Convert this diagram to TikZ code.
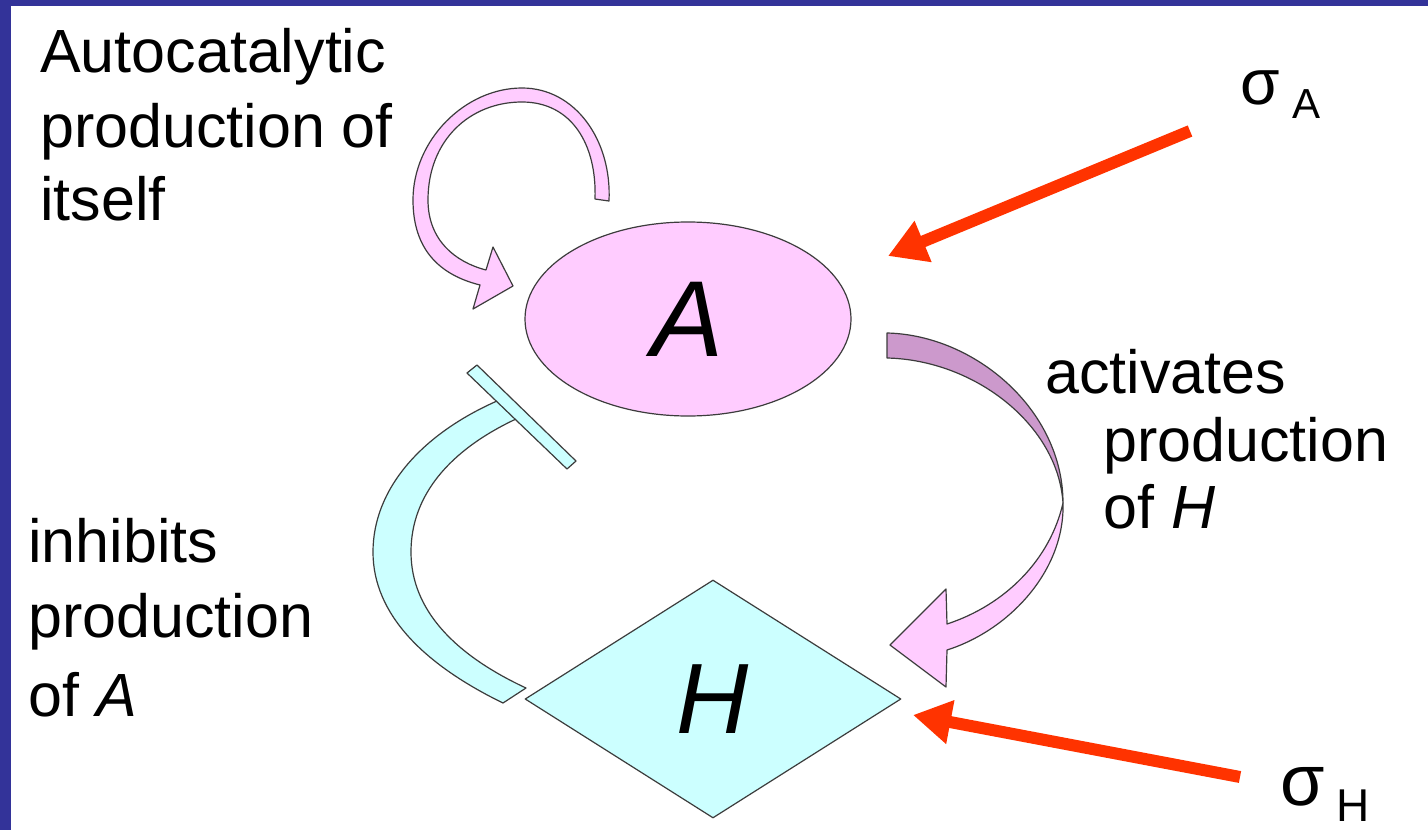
\documentclass[tikz,border=0pt]{standalone}
\usepackage{fontspec}
\setmainfont{Liberation Sans}
\usetikzlibrary{arrows.meta,shapes.geometric}
\definecolor{slideblue}{RGB}{51,51,153}
\definecolor{pinkfill}{RGB}{255,204,255}
\definecolor{mauvefill}{RGB}{204,153,204}
\definecolor{cyanfill}{RGB}{204,255,255}
\definecolor{signalred}{RGB}{255,51,0}
\definecolor{edgegray}{RGB}{60,60,60}
\begin{document}
\begin{tikzpicture}[x=1pt,y=-1pt,
  outl/.style={draw=edgegray,line width=1.2pt,line join=round},
  lbl/.style={anchor=base west,inner sep=0pt,font=\fontsize{61}{61}\selectfont},
  signalarrow/.style={draw=signalred,line width=12pt,-{Triangle[length=38pt,width=42pt]}},
  ]
% page and slide frame
\useasboundingbox (0,0) rectangle (1428,830);
\fill[white] (0,0) rectangle (1428,830);
\fill[slideblue] (0,0) rectangle (1428,6);
\fill[slideblue] (0,0) rectangle (11,830);

% species A and H
\node[ellipse,outl,fill=pinkfill,minimum width=326pt,minimum height=194pt,inner sep=0pt,
      font=\fontsize{108}{108}\selectfont\itshape] (A) at (688,319) {A};
\node[diamond,outl,fill=cyanfill,minimum width=376pt,minimum height=238pt,inner sep=0pt,
      font=\fontsize{100}{100}\selectfont\itshape] (H) at (713,699) {H};

% autocatalytic loop arrow
\draw[outl,fill=pinkfill] (609,201) .. controls (612,140) and (575,88) .. (522,88)
  .. controls (465,88) and (413,140) .. (413,200)
  .. controls (413,250) and (440,275) .. (480,285)
  -- (473,309) -- (513,286) -- (493,247) -- (486,270)
  .. controls (455,262) and (428,240) .. (428,200)
  .. controls (428,140) and (470,102) .. (522,102)
  .. controls (572,102) and (597,145) .. (595,199) -- cycle;

% activation arrow A -> H: back face, then front face with head
\draw[outl,fill=mauvefill] (887,333) .. controls (975,335) and (1063,410) .. (1063,503)
  .. controls (1058,425) and (975,360) .. (887,358) -- cycle;
\draw[outl,fill=pinkfill] (1063,503) .. controls (1065,570) and (1010,630) .. (947,650)
  -- (946,687) -- (890,645) -- (946,589) -- (947,624)
  .. controls (1005,605) and (1050,560) .. (1063,503) -- cycle;

% inhibition H -| A
\draw[outl,fill=cyanfill] (497,401) .. controls (420,435) and (373,490) .. (373,552)
  .. controls (373,615) and (425,665) .. (503,703) -- (526,688)
  .. controls (455,655) and (411,610) .. (411,552)
  .. controls (411,495) and (450,450) .. (516,419) -- cycle;
\draw[outl,fill=cyanfill] (467,373) -- (477,365) -- (576,461) -- (567,469) -- cycle;

% noise inputs
\node[anchor=base west,inner sep=0pt,font=\fontsize{64}{64}\selectfont] (sigA) at (1240,104) {σ};
\node[anchor=base west,inner sep=0pt,font=\fontsize{42}{42}\selectfont] (sigAsub) at (1292,118) {A};
\node[anchor=base west,inner sep=0pt,font=\fontsize{72}{72}\selectfont] (sigH) at (1280,805) {σ};
\node[anchor=base west,inner sep=0pt,font=\fontsize{46}{46}\selectfont] (sigHsub) at (1336,821) {H};
\coordinate (sa-tail) at (1190,131);
\coordinate (sa-tip) at (888,256);
\coordinate (sh-tail) at (1240,777);
\coordinate (sh-tip) at (913,715);
\draw[signalarrow] (sa-tail) -- (sa-tip);
\draw[signalarrow] (sh-tail) -- (sh-tip);

% captions
\node[lbl] (auto1) at (40,72) {Autocatalytic};
\node[lbl] (auto2) at (40,147) {production of};
\node[lbl] (auto3) at (40,220) {itself};
\node[lbl] (inh1) at (28,562) {inhibits};
\node[lbl] (inh2) at (28,637) {production};
\node[lbl] (inh3) at (28,716) {of \itshape A};
\node[lbl] (act1) at (1045,393) {activates};
\node[lbl] (act2) at (1103,461) {production};
\node[lbl] (act3) at (1103,528) {of \itshape H};
\end{tikzpicture}
\end{document}
